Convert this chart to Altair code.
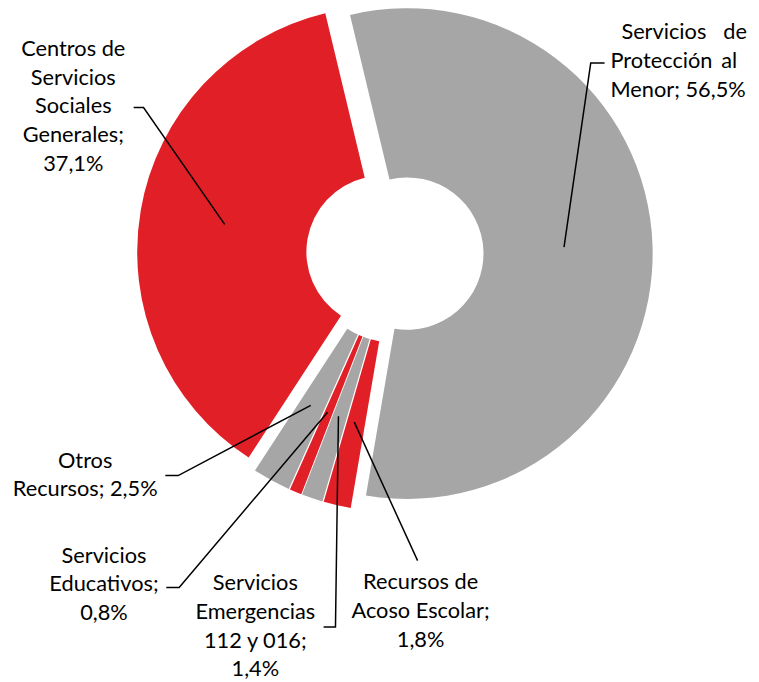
import math
import altair as alt
import pandas as pd

# ---------------- data ----------------
categories = [
    "Servicios de Protección al Menor",
    "Recursos de Acoso Escolar",
    "Servicios Emergencias 112 y 016",
    "Servicios Educativos",
    "Otros Recursos",
    "Centros de Servicios Sociales Generales",
]
values = [56.5, 1.8, 1.4, 0.8, 2.5, 37.1]

# ---------------- style / layout ----------------
colors = ["#A6A6A6", "#E11F26", "#A6A6A6", "#E11F26", "#A6A6A6", "#E11F26"]
PAGE = 8                      # page margin
W, H = 751, 674
CX, CY = 399 - PAGE, 253 - PAGE
R_OUT, R_IN = 248, 77
EXPLODE = 12.6
ROT = math.radians(-13.5) + 2 * math.pi
FONT = "Lato"
FS = 22
LH = 29

# words per label line, anchor (page coords), first baseline, alignment
label_layout = {
    categories[0]: dict(groups=[2, 2, 2], x=617, x2=755, y=36, mode="justify"),
    categories[1]: dict(groups=[2, 2, 1], x=425, y=592, mode="center"),
    categories[2]: dict(groups=[1, 1, 3, 1], x=258, y=593, mode="center"),
    categories[3]: dict(groups=[1, 1, 1], x=105, y=565, mode="center"),
    categories[4]: dict(groups=[1, 2], x=86, y=469, mode="center"),
    categories[5]: dict(groups=[2, 1, 1, 1, 1], x=74, y=53, mode="center"),
}
justify_first_x = {0: 628}    # first line of the justified label is indented

leaders = {
    categories[0]: [(611, 60), (597, 60), (570, 246)],
    categories[1]: [(422, 563), (358, 423)],
    categories[2]: [(327, 630), (339, 630), (342, 417)],
    categories[3]: [(168, 590), (181, 590), (331, 413)],
    categories[4]: [(167, 477), (180, 477), (314, 406)],
    categories[5]: [(135, 105), (145, 105), (227, 223)],
}


def pct(v):
    return f"{v:.1f}".replace(".", ",") + "%"


# ---------------- tables ----------------
df = pd.DataFrame({"cat": categories, "value": values, "idx": list(range(len(categories)))})

text_rows = []
for cat, v in zip(categories, values):
    words = (cat + ";").split(" ") + [pct(v)]
    lay = label_layout[cat]
    pos = 0
    for li, n in enumerate(lay["groups"]):
        line_words = words[pos:pos + n]
        pos += n
        y = lay["y"] + li * LH - PAGE
        if lay["mode"] == "center":
            text_rows.append(dict(t=" ".join(line_words), x=lay["x"] - PAGE, y=y, a="center"))
        else:
            last = li == len(lay["groups"]) - 1
            if last or len(line_words) == 1:
                text_rows.append(dict(t=" ".join(line_words), x=lay["x"] - PAGE, y=y, a="left"))
            else:
                lx = justify_first_x.get(li, lay["x"])
                text_rows.append(dict(t=" ".join(line_words[:-1]), x=lx - PAGE, y=y, a="left"))
                rx = lay["x2"] if li == 0 else 745
                text_rows.append(dict(t=line_words[-1], x=rx - PAGE, y=y, a="right"))
tdf = pd.DataFrame(text_rows)

lrows = []
for i, cat in enumerate(categories):
    for j, (px, py) in enumerate(leaders[cat]):
        lrows.append(dict(cat=cat, k=j, x=px - PAGE, y=py - PAGE))
ldf = pd.DataFrame(lrows)

# ---------------- chart ----------------
arcs = (
    alt.Chart(df)
    .transform_joinaggregate(total="sum(value)")
    .transform_window(cum="sum(value)", sort=[alt.SortField("idx")], frame=[None, 0])
    .transform_calculate(mid=f"{ROT} + 2*PI*(datum.cum - datum.value/2)/datum.total")
    .transform_calculate(
        px=f"{CX} + {EXPLODE}*sin(datum.mid)",
        py=f"{CY} - {EXPLODE}*cos(datum.mid)",
    )
    .mark_arc(outerRadius=R_OUT, innerRadius=R_IN)
    .encode(
        theta=alt.Theta("value:Q", stack=True, scale=alt.Scale(range=[ROT, ROT + 2 * math.pi])),
        order=alt.Order("idx:Q"),
        color=alt.Color("cat:N", scale=alt.Scale(domain=categories, range=colors), legend=None),
        x=alt.X("px:Q", scale=None, axis=None),
        y=alt.Y("py:Q", scale=None, axis=None),
    )
)

lines = (
    alt.Chart(ldf)
    .mark_line(color="black", strokeWidth=1.5)
    .encode(
        x=alt.X("x:Q", scale=None, axis=None),
        y=alt.Y("y:Q", scale=None, axis=None),
        detail="cat:N",
        order="k:Q",
    )
)

text_layers = []
for a in ["center", "left", "right"]:
    sub = tdf[tdf["a"] == a]
    if len(sub) == 0:
        continue
    text_layers.append(
        alt.Chart(sub)
        .mark_text(align=a, baseline="alphabetic", font=FONT, fontSize=FS, color="#000000")
        .encode(
            x=alt.X("x:Q", scale=None, axis=None),
            y=alt.Y("y:Q", scale=None, axis=None),
            text="t:N",
        )
    )

chart = (
    alt.layer(arcs, lines, *text_layers)
    .properties(width=W, height=H, padding=0, autosize=alt.AutoSizeParams(type="none"))
    .configure_view(stroke=None)
)

chart.save("out.html", embed_options={"renderer": "svg", "actions": False})
